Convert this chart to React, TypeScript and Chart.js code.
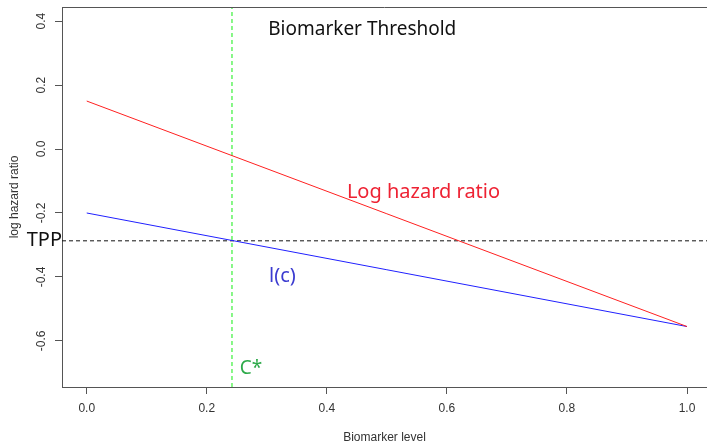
import React, { useEffect, useRef } from "react";
import { Chart, registerables } from "chart.js";

Chart.register(...registerables);

// ---- data ----
const biomarkerLevels = [0, 1];
const logHazardRatio = [0.15, -0.555];
const lcValues = [-0.2, -0.555];
const tppValue = -0.287;
const cStarValue = 0.242;
const xRange = [-0.0412, 1.0333];
const yRange = [-0.744, 0.444];
const tickStep = 0.2;

const titleText = "Biomarker Threshold";
const xTitle = "Biomarker level";
const yTitle = "log hazard ratio";

// annotation labels: [text, x, y]
const annotations: { text: string; x: number; y: number; color: string; font: string; align: CanvasTextAlign }[] = [
  { text: titleText, x: 0.459, y: 0.356, color: "#111111", font: "19px 'Noto Sans'", align: "center" },
  { text: "Log hazard ratio", x: 0.561, y: -0.153, color: "#ee2233", font: "20px 'Noto Sans'", align: "center" },
  { text: "l(c)", x: 0.326, y: -0.415, color: "#3b3bd0", font: "20px 'Noto Sans'", align: "center" },
  { text: "C*", x: 0.255, y: -0.703, color: "#2eaa4a", font: "19px 'Noto Sans'", align: "left" },
];

const AXIS_COLOR = "#555555";
const TICK_FONT = "'Liberation Sans', Arial, sans-serif";

const overlayPlugin = {
  id: "overlay",
  afterDraw(chart: any) {
    const { ctx, chartArea } = chart;
    const xs = chart.scales.x;
    const ys = chart.scales.y;
    ctx.save();
    // top border of box
    ctx.strokeStyle = AXIS_COLOR;
    ctx.lineWidth = 1;
    ctx.beginPath();
    ctx.moveTo(chartArea.left, Math.round(chartArea.top) + 0.5);
    ctx.lineTo(chartArea.right, Math.round(chartArea.top) + 0.5);
    ctx.stroke();

    // rotated y tick labels
    ctx.fillStyle = "#333333";
    ctx.font = `12px ${TICK_FONT}`;
    ctx.textAlign = "center";
    ctx.textBaseline = "middle";
    ys.ticks.forEach((t: any) => {
      const py = ys.getPixelForValue(t.value);
      ctx.save();
      ctx.translate(42, py);
      ctx.rotate(-Math.PI / 2);
      ctx.fillText(Number(t.value).toFixed(1), 0, 0);
      ctx.restore();
    });

    // annotations
    ctx.textBaseline = "alphabetic";
    annotations.forEach((a) => {
      ctx.font = a.font;
      ctx.fillStyle = a.color;
      ctx.textAlign = a.align;
      ctx.fillText(a.text, xs.getPixelForValue(a.x), ys.getPixelForValue(a.y));
    });

    // TPP label left of the axis
    ctx.font = "20px 'Noto Sans'";
    ctx.fillStyle = "#111111";
    ctx.textAlign = "right";
    ctx.textBaseline = "middle";
    ctx.fillText("TPP", chartArea.left, ys.getPixelForValue(tppValue) - 1);
    ctx.restore();
  },
};

export default function App() {
  const ref = useRef<HTMLCanvasElement>(null);
  useEffect(() => {
    if (!ref.current) return;
    const chart = new Chart(ref.current, {
      type: "line",
      data: {
        datasets: [
          {
            label: "Log hazard ratio",
            data: biomarkerLevels.map((x, i) => ({ x, y: logHazardRatio[i] })),
            borderColor: "#ff2020",
            borderWidth: 1,
            pointRadius: 0,
            fill: false,
          },
          {
            label: "l(c)",
            data: biomarkerLevels.map((x, i) => ({ x, y: lcValues[i] })),
            borderColor: "#2020ff",
            borderWidth: 1,
            pointRadius: 0,
            fill: false,
          },
          {
            label: "TPP",
            data: [
              { x: xRange[0], y: tppValue },
              { x: xRange[1], y: tppValue },
            ],
            borderColor: "#111111",
            borderWidth: 1,
            borderDash: [4, 3],
            pointRadius: 0,
            fill: false,
          },
          {
            label: "C*",
            data: [
              { x: cStarValue, y: yRange[0] },
              { x: cStarValue, y: yRange[1] },
            ],
            borderColor: "#11ee11",
            borderWidth: 1,
            borderDash: [4, 3],
            pointRadius: 0,
            fill: false,
          },
        ],
      },
      options: {
        animation: false,
        responsive: false,
        devicePixelRatio: 1,
        layout: { padding: { top: 7, left: 0, right: 0, bottom: 0 } },
        plugins: { legend: { display: false }, tooltip: { enabled: false } },
        scales: {
          x: {
            type: "linear",
            min: xRange[0],
            max: xRange[1],
            afterFit: (s: any) => {
              s.height = 55;
            },
            grid: { drawOnChartArea: false, drawTicks: true, tickLength: 7, color: AXIS_COLOR },
            border: { display: true, color: AXIS_COLOR, width: 1 },
            ticks: {
              stepSize: tickStep,
              includeBounds: false,
              padding: 7,
              color: "#333333",
              font: { family: TICK_FONT, size: 12 },
              maxRotation: 0,
              callback: (v: any) => Number(v).toFixed(1),
            },
            title: {
              display: true,
              text: xTitle,
              color: "#333333",
              font: { family: TICK_FONT, size: 12 },
              padding: { top: 0, bottom: -2.5 },
            },
          },
          y: {
            type: "linear",
            min: yRange[0],
            max: yRange[1],
            afterFit: (s: any) => {
              s.width = 62;
            },
            grid: { drawOnChartArea: false, drawTicks: true, tickLength: 7, color: AXIS_COLOR },
            border: { display: true, color: AXIS_COLOR, width: 1 },
            ticks: {
              stepSize: tickStep,
              includeBounds: false,
              display: false,
            },
            title: {
              display: true,
              text: yTitle,
              color: "#333333",
              font: { family: TICK_FONT, size: 12 },
              padding: { top: 7, bottom: 0 },
            },
          },
        },
      },
      plugins: [overlayPlugin],
    });
    return () => chart.destroy();
  }, []);
  return (
    <div style={{ position: "fixed", left: 0, top: 0, width: 707, height: 442, background: "#fff" }}>
      <canvas ref={ref} width={707} height={442} />
    </div>
  );
}
